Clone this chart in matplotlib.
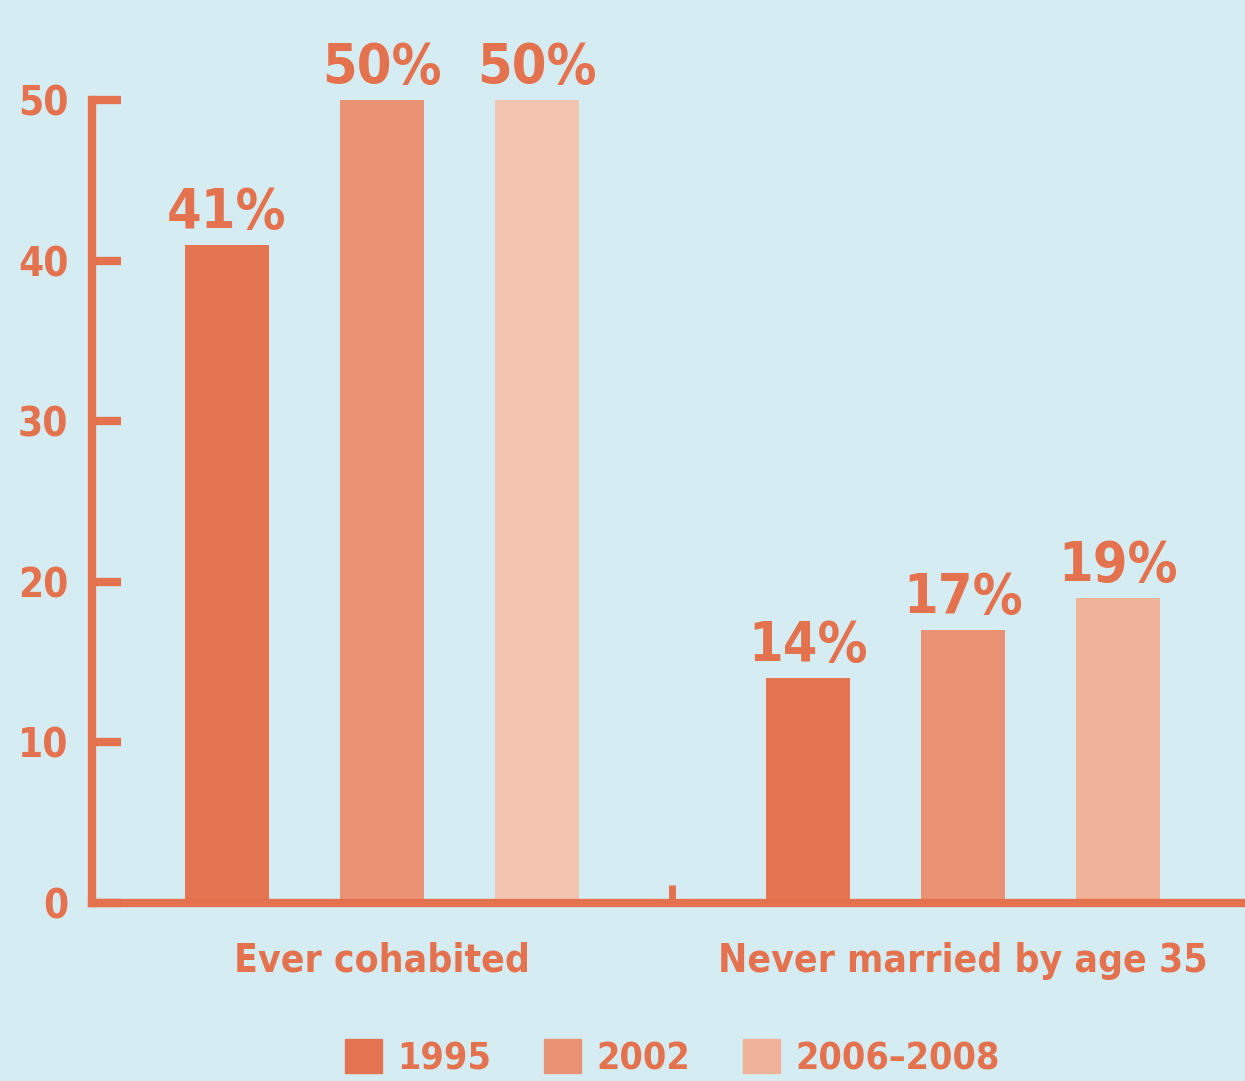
import numpy as np
import matplotlib.pyplot as plt
from matplotlib.patches import Patch

# data
categories = ["Ever cohabited", "Never married by age 35"]
series = ["1995", "2002", "2006–2008"]
values = {
    "1995": [41, 14],
    "2002": [50, 17],
    "2006–2008": [50, 19],
}
yticks = [0, 10, 20, 30, 40, 50]

bg = "#d5edf2"
txt = "#e5724f"
colors = {
    "1995": ["#e47452", "#e47452"],
    "2002": ["#e99274", "#e99274"],
    "2006–2008": ["#f3c4af", "#f0b298"],
}
legend_colors = ["#e47452", "#e99274", "#f0b298"]

plt.rcParams['font.family'] = ['DejaVu Sans']
plt.rcParams['font.stretch'] = 'condensed'
plt.rcParams['font.weight'] = 'bold'

fig = plt.figure(figsize=(12.45, 10.81), dpi=100, facecolor=bg)
ax = fig.add_axes([92/1245, 178/1081, 1 - 92/1245, (903-100)/1081])
ax.set_facecolor(bg)

centers = np.array([0, 3.748])
width = 0.54
for i, s in enumerate(series):
    xs = centers + (i - 1)
    ax.bar(xs, values[s], width=width, color=colors[s], zorder=2)
    for x, v in zip(xs, values[s]):
        ax.text(x, v + 1.05, f"{v}%", ha="center", va="baseline",
                fontsize=40, color=txt, fontweight="bold")

ax.set_xlim(-1.871, 5.568)
ax.set_ylim(0, 50)
ax.set_yticks(yticks)
ax.set_yticklabels([str(t) for t in yticks], fontsize=29, color=txt)
ax.tick_params(axis="y", direction="in", length=21, width=6, color=txt, pad=17)
ax.set_xticks([centers.mean()])
ax.set_xticklabels([""])
ax.tick_params(axis="x", direction="in", length=13, width=5, color=txt)

for side in ["top", "right"]:
    ax.spines[side].set_visible(False)
for side in ["left", "bottom"]:
    ax.spines[side].set_color(txt)
    ax.spines[side].set_linewidth(6)
ax.spines["left"].set_bounds(0, 50)

for c, lab in zip(centers, categories):
    ax.text(c, -3.6, lab, ha="center", va="center", fontsize=28,
            color=txt, fontweight="bold")

handles = [Patch(color=c) for c in legend_colors]
fig.legend(handles, series, loc="center", bbox_to_anchor=(0.54, 0.021),
           ncol=3, frameon=False, fontsize=27, labelcolor=txt,
           handlelength=1.0, handleheight=1.0, columnspacing=1.4, handletextpad=0.4)

plt.savefig("out.png", dpi=100, facecolor=bg)
